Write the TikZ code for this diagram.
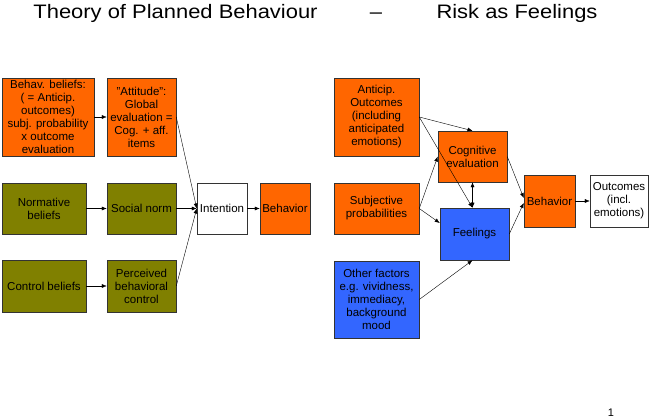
\documentclass[tikz,border=0pt]{standalone}
\usepackage{fontspec}
\setmainfont{Liberation Sans}
\usetikzlibrary{arrows.meta}
\definecolor{orng}{HTML}{FF6600}
\definecolor{olv}{HTML}{808000}
\definecolor{blu}{HTML}{3366FF}
\begin{document}
\begin{tikzpicture}[x=1pt,y=-1pt,>={Latex[length=5pt,width=4pt]},
    box/.style={draw=black!80,line width=0.5pt,align=center,inner sep=1pt,
      font=\fontsize{11.5}{13}\selectfont},
    ob/.style={box,fill=orng},
    gb/.style={box,fill=olv},
    bb/.style={box,fill=blu},
    ttl/.style={anchor=base,inner sep=0pt,font=\fontsize{19.5}{24}\selectfont}]
    \useasboundingbox (0,0) rectangle (650,419);

    \node[ttl] (T1) at (175.5,18.3) {\scalebox{1.125}[1]{Theory of Planned Behaviour}};
    \node[ttl] (T2) at (376,18.3) {\scalebox{1.125}[1]{--}};
    \node[ttl] (T3) at (517,18.3) {\scalebox{1.125}[1]{Risk as Feelings}};

    \node[ob,minimum width=92,minimum height=78] (bel) at (48,117) {Behav. beliefs:\\( = Anticip.\\outcomes)\\subj. probability\\x outcome\\evaluation};
    \node[ob,minimum width=69,minimum height=78] (att) at (141.5,117) {"Attitude":\\Global\\evaluation =\\Cog. + aff.\\items};
    \node[gb,minimum width=84,minimum height=51] (norb) at (44,208.5) {Normative\\beliefs};
    \node[gb,minimum width=69,minimum height=51] (norm) at (141.5,208.5) {Social norm};
    \node[gb,minimum width=84,minimum height=52] (conb) at (44,286) {Control beliefs};
    \node[gb,minimum width=69,minimum height=52] (pbc) at (141.5,286) {Perceived\\behavioral\\control};
    \node[box,fill=white,minimum width=50,minimum height=51] (int) at (222,208.5) {Intention};
    \node[ob,minimum width=50,minimum height=51] (beh) at (285,208.5) {Behavior};

    \draw[->] (bel) to (att); \draw[->] (norb) to (norm); \draw[->] (conb) to (pbc);
    \draw[->] (att.east) to (int.west); \draw[->] (norm) to (int); \draw[->] (pbc.east) to (int.west);
    \draw[->] (int) to (beh);

    \node[ob,minimum width=85,minimum height=78] (ant) at (376.5,117) {Anticip.\\Outcomes\\(including\\anticipated\\emotions)};
    \node[ob,minimum width=85,minimum height=51] (prob) at (376.5,208.5) {Subjective\\probabilities};
    \node[bb,minimum width=85,minimum height=77] (oth) at (376.5,299.5) {Other factors\\e.g. vividness,\\immediacy,\\background\\mood};
    \node[ob,minimum width=69,minimum height=51] (cog) at (472.5,156.5) {Cognitive\\evaluation};
    \node[bb,minimum width=69,minimum height=52] (feel) at (474.5,234) {Feelings};
    \node[ob,minimum width=51,minimum height=52] (rbeh) at (549.5,201) {Behavior};
    \node[box,fill=white,minimum width=58,minimum height=52] (out) at (619,201) {Outcomes\\(incl.\\emotions)};

    \draw[->] (ant.east) to (cog.north); \draw[->] (ant.east) to (feel.north -| cog.south);
    \draw[->] (prob.east) to (cog.west); \draw[->] (prob.east) to ([yshift=11pt]feel.west);
    \draw[<->] (cog.south) to (feel.north -| cog.south);
    \draw[->] (oth.east) to (feel.south -| cog.south);
    \draw[->] (cog.east) to ([yshift=3pt]rbeh.west); \draw[->] (feel.east) to ([yshift=-2pt]rbeh.west);
    \draw[->] (rbeh) to (out);

    \node[anchor=base,inner sep=0pt,font=\fontsize{11}{13}\selectfont] (pg) at (611,416.5) {1};
\end{tikzpicture}
\end{document}
